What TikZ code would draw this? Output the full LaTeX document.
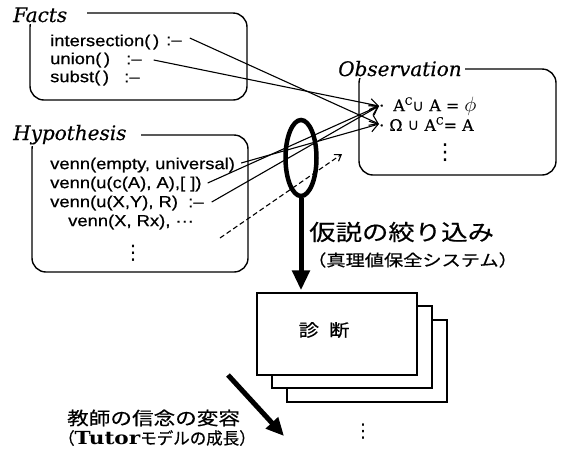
\documentclass[tikz,border=0pt]{standalone}
\usepackage{fontspec}
\usepackage{graphicx}
\usetikzlibrary{arrows.meta,shapes.geometric}
\newfontfamily\codefont{Liberation Sans}[FakeStretch=1.15,FakeBold=0.6]
\newfontfamily\titlefont{DejaVu Serif}[FakeBold=0.4]
\newfontfamily\serifw{DejaVu Serif}[FakeStretch=1.2]
\newfontfamily\symfont{DejaVu Sans}
\newfontfamily\jpw{Noto Sans CJK JP}[FakeStretch=1.2,FakeBold=0.5]
\newfontfamily\jpn{Noto Sans CJK JP}[FakeBold=0.5]
\newcommand{\supc}{\raisebox{6.5pt}{\fontsize{10}{10}\selectfont C}}
\tikzset{
  box/.style={draw, line width=1.4pt, rounded corners=14pt},
  ttl/.style={fill=white, anchor=base west, inner ysep=2pt, font=\titlefont\itshape\fontsize{20}{20}\selectfont},
  code/.style={anchor=west, inner sep=0pt, font=\codefont\fontsize{16}{16}\selectfont},
  obs/.style={anchor=west, inner sep=0pt, font=\titlefont\fontsize{16}{16}\selectfont},
  link/.style={line width=1.1pt, -{Straight Barb[length=8pt,width=11pt]}},
  dlink/.style={line width=1.1pt, dash pattern=on 5pt off 3pt, -{Straight Barb[length=6pt,width=8pt]}},
  bigarrow/.style={line width=5pt, -{Triangle[length=20pt,width=17pt]}},
  dbox/.style={draw, fill=white, line width=1.3pt, minimum width=160pt, minimum height=82pt, inner sep=0pt},
  jtext/.style={anchor=west, inner sep=0pt},
  vdot/.style={inner sep=0pt, font=\symfont}
}
\begin{document}
\begin{tikzpicture}[x=1pt,y=-1pt]
\useasboundingbox[fill=white] (0,0) rectangle (562,459);
% frames
\draw[box] (30,13) rectangle (247,100);
\draw[box] (32,135) rectangle (248,272);
\draw[box] (359,69) rectangle (556,175);
\node[ttl, inner xsep=20pt] (factsT) at (-7,22) {Facts};
\node[ttl, inner xsep=15pt] (hypT) at (-2,140) {Hypothesis};
\node[ttl, inner xsep=3pt] (obsT) at (335,76) {Observation};
% facts
\node[code] (f1) at (50,42) {intersection(\,)};
\node[code] (f1d) at (166,41) {:–};
\node[code] (f2) at (50,60) {union(\,)};
\node[code] (f2d) at (126,60) {:–};
\node[code] (f3) at (50,78) {subst(\,)};
\node[code] (f3d) at (124,78) {:–};
% hypothesis
\node[code] (h1) at (50,165) {venn(empty, universal)};
\node[code] (h2) at (50,184) {venn(u(c(A), A),[ ])};
\node[code] (h3) at (50,203) {venn(u(X,Y), R)};
\node[code] (h3d) at (188,203) {:–};
\node[code] (h4) at (68,222) {venn(X, Rx), ···};
\node[vdot, font=\symfont\fontsize{20}{20}\selectfont] (hv) at (133,253) {⋮};
% observation
\node[obs] (o1) at (379,106) {·\hspace{9pt}A\supc{\symfont ∪} A = \scalebox{1.2}{$\phi$}};
\node[obs] (o2) at (379,124) {·\hspace{5pt}Ω {\symfont ∪} A\supc= A};
\node[vdot, font=\symfont\fontsize{22}{22}\selectfont] (ov) at (445,153) {⋮};
% connectors
\draw[link] ([shift={(8,-3)}]f1d.east) -- (o2.west);
\draw[link] ([shift={(12,0)}]f2d.east) -- (o1.west);
\draw[link] ([shift={(6,-2)}]h1.east) -- (o2.west);
\draw[link] ([shift={(6,-1)}]h2.east) -- (o1.west);
\draw[link] ([shift={(8,-1)}]h3d.east) -- (o1.west);
\coordinate (dA) at (220,238);
\coordinate (dB) at (342,154);
\draw[dlink] (dA) -- (dB);
% diagnosis stack
\node[dbox] (d3) at (367,361) {};
\node[dbox] (d2) at (352,347) {};
\node[dbox] (d1) at (337,334) {};
\node[jtext, anchor=center, font=\jpw\fontsize{17}{17}\selectfont] (diag) at (324,330) {診\hspace{10pt}断};
\node[vdot, font=\symfont\fontsize{19}{19}\selectfont] (dv) at (363,432) {⋮};
% filter (ellipse) and big arrow
\node[draw, ellipse, line width=4.5pt, minimum width=31pt, minimum height=76pt, inner sep=0pt] (ell) at (301,158) {};
\draw[bigarrow, shorten >=2pt] (ell.south) -- (ell.south |- d1.north);
\node[jtext, font=\jpw\fontsize{22}{22}\selectfont] (jp1) at (309,232) {仮説の絞り込み};
\node[jtext, font=\jpw\fontsize{16}{16}\selectfont] (jp2) at (307,260) {（真理値保全システム）};
% tutor arrow
\coordinate (ta) at (228,375);
\coordinate (tb) at (284,436);
\draw[line width=5pt, -{Triangle[length=18pt,width=16pt]}] (ta) -- (tb);
\node[jtext, font=\jpw\fontsize{18}{18}\selectfont] (jp3) at (67,418) {教師の信念の変容};
\node[jtext, font=\jpn\fontsize{16.5}{16.5}\selectfont] (jp4) at (58,438) {（{\serifw\bfseries\fontsize{18}{18}\selectfont Tutor}モデルの成長）};
\end{tikzpicture}
\end{document}
